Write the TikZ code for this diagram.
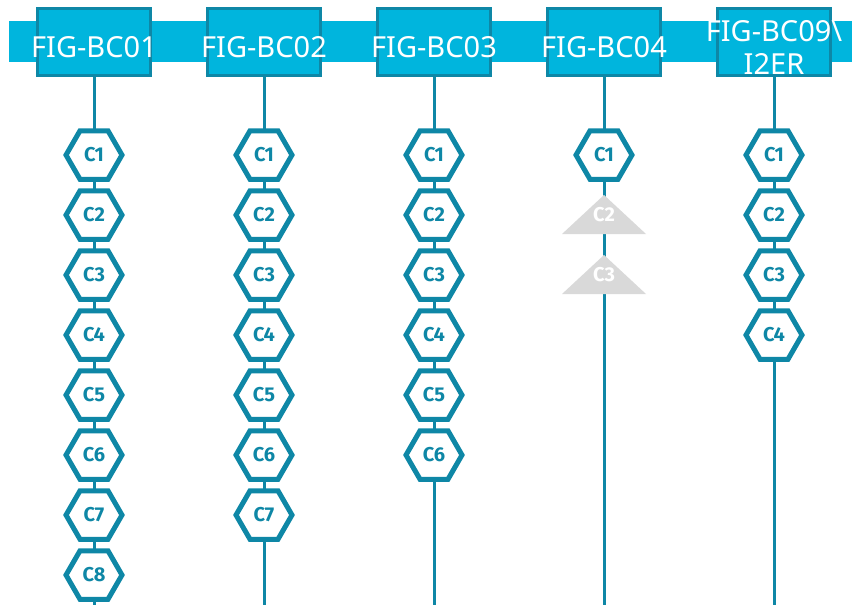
\documentclass[tikz,border=0pt]{standalone}
\usepackage{fontspec}
\setmainfont{Noto Sans}
\newfontfamily\chkfont{Fira Sans}
\usetikzlibrary{shapes.geometric}
\definecolor{bandcyan}{RGB}{0,181,221}
\definecolor{stepteal}{RGB}{14,135,166}
\definecolor{skipgray}{RGB}{217,217,217}

\begin{document}
\begin{tikzpicture}[x=1pt, y=-1pt,
    hdr/.style={draw=stepteal, line width=3pt, fill=bandcyan, minimum width=113pt,
      minimum height=67pt, inner ysep=0pt, inner xsep=-20pt, text=white,
      font=\fontsize{29}{33}\selectfont, text height=30pt, text depth=0pt},
    chk/.style={regular polygon, regular polygon sides=6, draw=stepteal, line width=5pt,
      fill=white, minimum size=56pt, inner sep=0pt, text=stepteal,
      font=\chkfont\bfseries\fontsize{20}{22}\selectfont},
    skipmark/.style={inner sep=0pt, text=white, font=\chkfont\bfseries\fontsize{20}{22}\selectfont}]
    \useasboundingbox (0,0) rectangle (852,605);

    % Band behind the headers
    \fill[bandcyan] (9,21) rectangle (852,62);

    % Column headers
    \foreach \X/\L [count=\i] in {94/FIG-BC01,264/FIG-BC02,434/FIG-BC03,604/FIG-BC04} {
        \node[hdr] (h\i) at (\X,42) {\L};
    }
    \node[hdr, align=center, text height=64pt] (h5) at (774,42) {FIG-BC09\textbackslash\\I2ER};

    % Column lines down to the bottom edge
    \foreach \i/\X in {1/94,2/264,3/434,4/604,5/774} {
        \coordinate (e\i) at (\X,605);
        \draw[stepteal, line width=3pt] (h\i.south) -- (e\i);
    }

    % Checkpoints C1..Cn in each column
    \foreach \i/\X/\N in {1/94/8,2/264/7,3/434/6,4/604/1,5/774/4} {
        \foreach \k in {1,...,\N} {
            \node[chk] (c\i\k) at (\X,95+60*\k) {C\k};
        }
    }

    % Skipped checkpoints in column 4
    \foreach \k in {2,3} {
        \fill[skipgray] (604,75+60*\k) -- (646,114+60*\k) -- (562,114+60*\k) -- cycle;
        \node[skipmark] (c4\k) at (604,95+60*\k) {C\k};
    }
\end{tikzpicture}
\end{document}
